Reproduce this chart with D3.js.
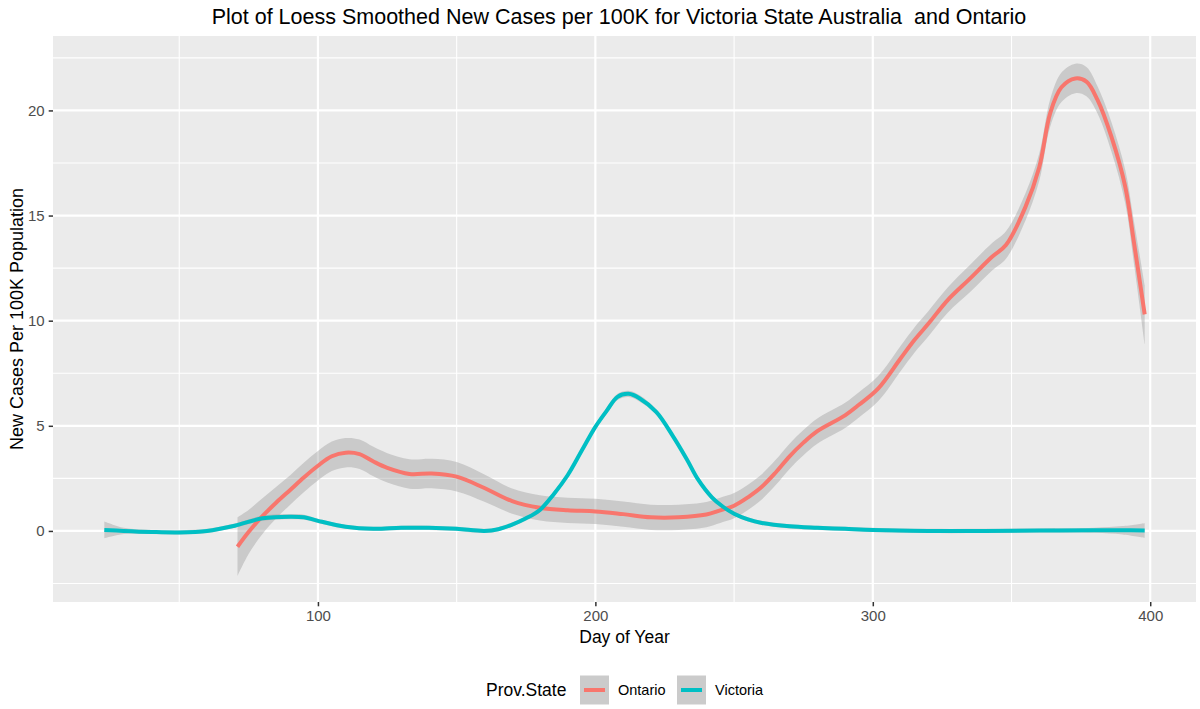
<!DOCTYPE html>
<html>
<head>
<meta charset="utf-8">
<script src="https://cdn.jsdelivr.net/npm/d3@7"></script>
<style>
  body { margin: 0; background: #fff; }
  text { font-family: "Liberation Sans", Arial, sans-serif; }
</style>
</head>
<body>
<div id="main"></div>
<script>
// loess line, with the half width of its grey band
var vicDays  = [23, 30, 40, 50, 60, 70, 80, 90, 95, 100, 110, 120, 130, 140, 150, 160, 165, 170, 175, 180,
                185, 190, 195, 200, 204, 208, 212, 216, 222, 228, 233, 237, 242, 246, 250, 255, 260, 270, 280, 290,
                300, 320, 340, 360, 380, 390, 398]
var vicCases = [0.05, 0.0, -0.05, -0.07, 0.0, 0.25, 0.6, 0.68, 0.65, 0.48, 0.2, 0.1, 0.15, 0.15, 0.1, 0.0, 0.08, 0.3, 0.6, 1.0,
                1.75, 2.65, 3.8, 4.95, 5.7, 6.38, 6.52, 6.3, 5.65, 4.5, 3.4, 2.45, 1.6, 1.15, 0.82, 0.55, 0.38, 0.22, 0.15, 0.1,
                0.05, 0.0, 0.0, 0.02, 0.03, 0.03, 0.02]
var vicBand  = [0.4, 0.15, 0.1, 0.1, 0.1, 0.1, 0.12, 0.12, 0.12, 0.1, 0.1, 0.1, 0.1, 0.1, 0.1, 0.1, 0.1, 0.1, 0.1, 0.12,
                0.12, 0.12, 0.12, 0.12, 0.15, 0.15, 0.15, 0.15, 0.12, 0.12, 0.12, 0.12, 0.12, 0.1, 0.1, 0.1, 0.1, 0.1, 0.1, 0.1,
                0.1, 0.1, 0.1, 0.1, 0.12, 0.2, 0.35]

var ontDays  = [71, 75, 80, 85, 90, 95, 100, 105, 110, 115, 120, 125, 133, 141, 150, 160, 170, 180, 190, 200,
                210, 220, 230, 240, 245, 250, 255, 260, 265, 270, 275, 280, 290, 295, 302, 310, 315, 320, 327, 335,
                343, 348, 355, 360, 364, 368, 373, 377, 381, 386, 391, 394, 398]
var ontCases = [-0.75, -0.05, 0.7, 1.35, 1.95, 2.55, 3.1, 3.55, 3.72, 3.65, 3.3, 3.0, 2.71, 2.73, 2.58, 2.04, 1.42, 1.1, 0.98, 0.93,
                0.8, 0.65, 0.65, 0.78, 0.98, 1.2, 1.6, 2.1, 2.78, 3.55, 4.2, 4.75, 5.5, 6.0, 6.78, 8.2, 9.08, 9.85, 10.98, 12.0,
                13.04, 13.6, 15.4, 17.3, 19.9, 21.1, 21.52, 21.37, 20.5, 18.75, 16.37, 13.84, 10.3]
var ontBand  = [1.4, 1.05, 0.85, 0.75, 0.7, 0.7, 0.7, 0.7, 0.7, 0.7, 0.7, 0.7, 0.7, 0.7, 0.7, 0.65, 0.6, 0.6, 0.6, 0.6,
                0.6, 0.6, 0.6, 0.6, 0.6, 0.6, 0.6, 0.6, 0.6, 0.6, 0.6, 0.6, 0.6, 0.6, 0.6, 0.6, 0.6, 0.6, 0.6, 0.65,
                0.65, 0.65, 0.65, 0.65, 0.65, 0.7, 0.7, 0.7, 0.65, 0.7, 0.8, 1.0, 1.4]

var xTicks = [100, 200, 300, 400]
var xMinor = [50, 150, 250, 350]
var yTicks = [0, 5, 10, 15, 20]
var yMinor = [-2.5, 2.5, 7.5, 12.5, 17.5, 22.5]

var seriesNames = ["Ontario", "Victoria"]
var seriesColors = ["#F8766D", "#00BFC4"]

var dimensions = {
  width: 1200,
  height: 709,
  margin: { top: 36, bottom: 107, right: 4, left: 53 }
}
dimensions.boundedWidth = dimensions.width - dimensions.margin.left - dimensions.margin.right
dimensions.boundedHeight = dimensions.height - dimensions.margin.top - dimensions.margin.bottom

var svg = d3.select("#main").append("svg")
  .attr("width", dimensions.width)
  .attr("height", dimensions.height)

var panel = svg.append("g")
  .attr("transform", "translate(" + dimensions.margin.left + "," + dimensions.margin.top + ")")

var x = d3.scaleLinear().domain([4.5, 416.5]).range([0, dimensions.boundedWidth])
var y = d3.scaleLinear().domain([-3.38, 23.54]).range([dimensions.boundedHeight, 0])

panel.append("rect")
  .attr("width", dimensions.boundedWidth)
  .attr("height", dimensions.boundedHeight)
  .attr("fill", "#EBEBEB")

// grid
panel.selectAll(".xminor").data(xMinor).enter().append("line")
  .attr("x1", d => x(d)).attr("x2", d => x(d))
  .attr("y1", 0).attr("y2", dimensions.boundedHeight)
  .attr("stroke", "#fff").attr("stroke-width", 1.1)
panel.selectAll(".yminor").data(yMinor).enter().append("line")
  .attr("y1", d => y(d)).attr("y2", d => y(d))
  .attr("x1", 0).attr("x2", dimensions.boundedWidth)
  .attr("stroke", "#fff").attr("stroke-width", 1.1)
panel.selectAll(".xmajor").data(xTicks).enter().append("line")
  .attr("x1", d => x(d)).attr("x2", d => x(d))
  .attr("y1", 0).attr("y2", dimensions.boundedHeight)
  .attr("stroke", "#fff").attr("stroke-width", 2.2)
panel.selectAll(".ymajor").data(yTicks).enter().append("line")
  .attr("y1", d => y(d)).attr("y2", d => y(d))
  .attr("x1", 0).attr("x2", dimensions.boundedWidth)
  .attr("stroke", "#fff").attr("stroke-width", 2.2)

function makeRows(days, cases, band) {
  return days.map(function(d, i) { return { day: d, v: cases[i], se: band[i] } })
}
var series = [
  { name: "Ontario", rows: makeRows(ontDays, ontCases, ontBand) },
  { name: "Victoria", rows: makeRows(vicDays, vicCases, vicBand) }
]
var color = d3.scaleOrdinal().domain(seriesNames).range(seriesColors)

var curve = d3.curveCatmullRom.alpha(0.5)
var area = d3.area().curve(curve)
  .x(d => x(d.day)).y0(d => y(d.v - d.se)).y1(d => y(d.v + d.se))
var line = d3.line().curve(curve)
  .x(d => x(d.day)).y(d => y(d.v))

panel.selectAll(".band").data(series).enter().append("path")
  .attr("d", d => area(d.rows))
  .attr("fill", "#999999").attr("fill-opacity", 0.4)
panel.selectAll(".smooth").data(series).enter().append("path")
  .attr("d", d => line(d.rows))
  .attr("fill", "none")
  .attr("stroke", d => color(d.name))
  .attr("stroke-width", 4)
  .attr("stroke-linejoin", "round")

// axes
var xAxis = panel.append("g")
  .attr("transform", "translate(0," + dimensions.boundedHeight + ")")
  .call(d3.axisBottom(x).tickValues(xTicks).tickSize(4.3).tickPadding(4))
var yAxis = panel.append("g")
  .call(d3.axisLeft(y).tickValues(yTicks).tickSize(4.3).tickPadding(4))
;[xAxis, yAxis].forEach(function(a) {
  a.select(".domain").remove()
  a.selectAll(".tick line").attr("stroke", "#333333").attr("stroke-width", 1.5)
  a.selectAll(".tick text").attr("fill", "#4D4D4D").style("font-size", "15px")
    .style("font-family", "'Liberation Sans', Arial, sans-serif")
})

svg.append("text")
  .attr("x", 619)
  .attr("y", 24)
  .attr("text-anchor", "middle")
  .attr("xml:space", "preserve")
  .style("font-size", "21.5px")
  .text("Plot of Loess Smoothed New Cases per 100K for Victoria State Australia  and Ontario")

svg.append("text")
  .attr("x", dimensions.margin.left + dimensions.boundedWidth / 2)
  .attr("y", 643)
  .attr("text-anchor", "middle")
  .style("font-size", "17.5px")
  .text("Day of Year")

svg.append("text")
  .attr("transform", "translate(23," + (dimensions.margin.top + dimensions.boundedHeight / 2) + ") rotate(-90)")
  .attr("text-anchor", "middle")
  .style("font-size", "18px")
  .text("New Cases Per 100K Population")

// legend
var legend = svg.append("g").attr("transform", "translate(486,690)")
legend.append("text")
  .attr("x", 0).attr("y", 6)
  .style("font-size", "17.5px")
  .text("Prov.State")
var keyX = [94, 191]
var keys = legend.selectAll(".key").data(seriesNames).enter().append("g")
  .attr("transform", (d, i) => "translate(" + keyX[i] + ",0)")
keys.append("rect")
  .attr("x", 0).attr("y", -14.5).attr("width", 29).attr("height", 29)
  .attr("fill", "#CBCBCB")
keys.append("line")
  .attr("x1", 4).attr("x2", 25).attr("y1", 0).attr("y2", 0)
  .attr("stroke", d => color(d)).attr("stroke-width", 4)
keys.append("text")
  .attr("x", 38).attr("y", 5)
  .style("font-size", "14.5px")
  .text(d => d)
</script>
</body>
</html>
